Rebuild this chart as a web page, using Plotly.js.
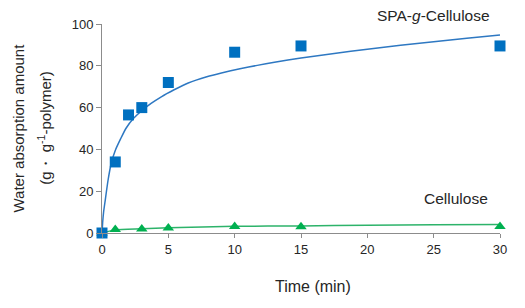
<!DOCTYPE html>
<html>
<head>
<meta charset="utf-8">
<script src="https://cdn.plot.ly/plotly-3.0.1.min.js"></script>
<style>
  html, body { margin: 0; padding: 0; background: #ffffff; }
  #chart { width: 525px; height: 308px; }
</style>
</head>
<body>
<div id="chart"></div>
<script>
// Measured water absorption over time (g per g polymer)
const timeSpa = [0, 1, 2, 3, 5, 10, 15, 30];
const absorptionSpa = [0, 34, 56.5, 60, 72, 86.5, 89.5, 89.5];

const timeCellulose = [0, 1, 3, 5, 10, 15, 30];
const absorptionCellulose = [0, 1.7, 1.9, 2.4, 3.1, 3.0, 3.1];

// Trend curves
const trendTimeSpa = [0, 0.05, 0.12, 0.25, 0.45, 0.7, 1.0, 1.4, 1.8, 2.4, 3.0, 3.7, 4.5, 5.4, 6.5, 7.9, 9.0, 10.4, 11.7, 13, 15, 17.5, 20, 22.5, 25, 27.5, 30];
const trendSpa = [0, 5, 10, 16, 25, 33.5, 39.5, 45, 50, 55, 58.5, 62, 65.3, 68.4, 71.8, 74.8, 76.6, 78.6, 80.2, 81.7, 83.7, 85.9, 87.9, 89.8, 91.5, 93.2, 94.7];

const trendTimeCellulose = [0, 1, 3, 5, 10, 15, 20, 25, 30];
const trendCellulose = [0, 1.5, 2.0, 2.5, 3.2, 3.4, 3.7, 3.9, 4.1];

const xTicks = [0, 5, 10, 15, 20, 25, 30];
const yTicks = [0, 20, 40, 60, 80, 100];

const blue = '#0070C0';
const blueLine = '#2E78C2';
const green = '#00B050';
const greenLine = '#2DB36A';

const traces = [
  {
    x: trendTimeCellulose, y: trendCellulose, mode: 'lines', type: 'scatter',
    line: { color: greenLine, width: 1.5, shape: 'spline', smoothing: 0.6 },
    cliponaxis: false, hoverinfo: 'skip'
  },
  {
    x: timeCellulose, y: absorptionCellulose, mode: 'markers', type: 'scatter',
    marker: { symbol: 'triangle-up', size: 10, color: green },
    cliponaxis: false
  },
  {
    x: trendTimeSpa, y: trendSpa, mode: 'lines', type: 'scatter',
    line: { color: blueLine, width: 1.5, shape: 'spline', smoothing: 0.5 },
    cliponaxis: false, hoverinfo: 'skip'
  },
  {
    x: timeSpa, y: absorptionSpa, mode: 'markers', type: 'scatter',
    marker: { symbol: 'square', size: 11, color: blue },
    cliponaxis: false
  }
];

const textFont = { family: 'Liberation Sans, Arial, sans-serif', color: '#262626' };

const layout = {
  width: 525, height: 308,
  margin: { l: 102, r: 25, t: 24, b: 75 },
  paper_bgcolor: '#ffffff', plot_bgcolor: '#ffffff',
  showlegend: false,
  xaxis: {
    range: [0, 30], tickvals: xTicks, ticktext: xTicks.map(String),
    showgrid: false, zeroline: false, showline: true,
    linecolor: '#8c8c8c', linewidth: 1,
    ticks: 'outside', ticklen: 4, tickcolor: '#8c8c8c',
    tickfont: Object.assign({ size: 13 }, textFont)
  },
  yaxis: {
    range: [0, 100], tickvals: yTicks, ticktext: yTicks.map(String),
    showgrid: false, zeroline: false, showline: true,
    linecolor: '#8c8c8c', linewidth: 1,
    ticks: 'outside', ticklen: 5, tickcolor: '#8c8c8c',
    tickfont: Object.assign({ size: 13 }, textFont)
  },
  annotations: [
    {
      text: 'SPA-<i>g</i>-Cellulose', x: 0.832, y: 1.043, xref: 'paper', yref: 'paper',
      showarrow: false, xanchor: 'center', yanchor: 'middle',
      font: Object.assign({ size: 15.5 }, textFont)
    },
    {
      text: 'Cellulose', x: 26.7, y: 16.7, xref: 'x', yref: 'y',
      showarrow: false, xanchor: 'center', yanchor: 'middle',
      font: Object.assign({ size: 15.5 }, textFont)
    },
    {
      text: 'Time (min)', x: 0.53, y: -0.258, xref: 'paper', yref: 'paper',
      showarrow: false, xanchor: 'center', yanchor: 'middle',
      font: Object.assign({ size: 16 }, textFont)
    },
    {
      text: 'Water absorption amount', x: -0.211, y: 0.5, xref: 'paper', yref: 'paper',
      showarrow: false, xanchor: 'center', yanchor: 'middle', textangle: -90,
      font: Object.assign({ size: 15 }, textFont)
    },
    {
      text: '(g・ g<sup>-1</sup>-polymer)', x: -0.145, y: 0.505, xref: 'paper', yref: 'paper',
      showarrow: false, xanchor: 'center', yanchor: 'middle', textangle: -90,
      font: Object.assign({ size: 15 }, textFont)
    }
  ]
};

Plotly.newPlot('chart', traces, layout, { displayModeBar: false, staticPlot: true });
</script>
</body>
</html>
